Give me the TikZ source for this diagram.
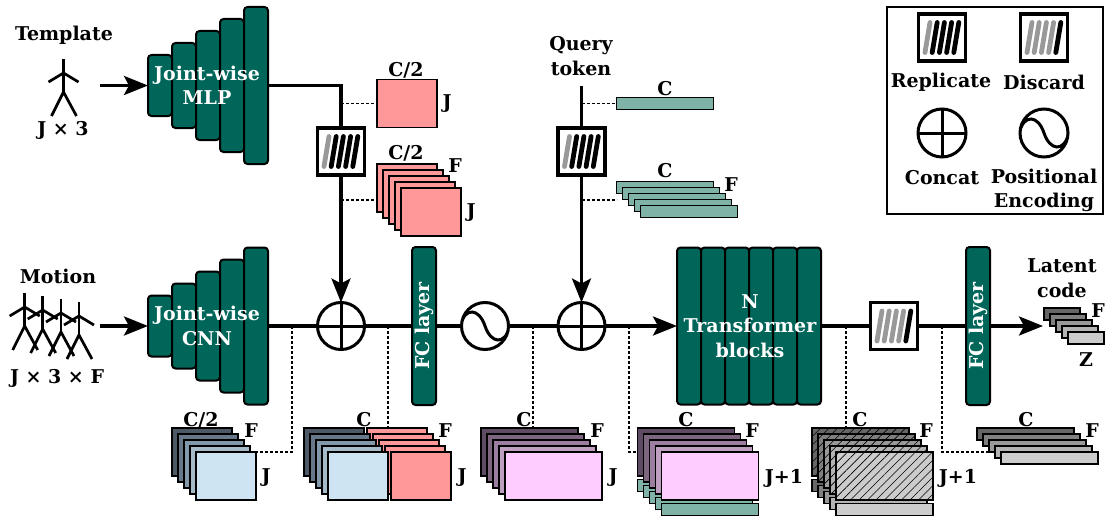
\documentclass[tikz,border=0pt]{standalone}
\usepackage{fontspec}
\setmainfont{DejaVu Serif}
\usetikzlibrary{arrows.meta}
\usetikzlibrary{patterns.meta}
\definecolor{blockc}{HTML}{00665A}
\definecolor{pinkc}{HTML}{FF9999}
\definecolor{tealc}{HTML}{80B3A8}
\definecolor{blueA}{HTML}{4D5966}
\definecolor{blueB}{HTML}{66788A}
\definecolor{blueC}{HTML}{8299AB}
\definecolor{blueD}{HTML}{A5BBC9}
\definecolor{blueE}{HTML}{CEE4F2}
\definecolor{purpA}{HTML}{5F4B63}
\definecolor{purpB}{HTML}{7F6680}
\definecolor{purpC}{HTML}{9C7FA0}
\definecolor{purpD}{HTML}{BF9FBF}
\definecolor{purpE}{HTML}{FFCCFF}
\definecolor{grayA}{HTML}{666666}
\definecolor{grayB}{HTML}{808080}
\definecolor{grayC}{HTML}{999999}
\definecolor{grayD}{HTML}{B3B3B3}
\definecolor{grayE}{HTML}{CCCCCC}

\begin{document}
\begin{tikzpicture}[
x = 1pt, y = -1pt,
lbl/.style={inner sep = 0, align = center, font = \bfseries\fontsize{19}{24.5}\selectfont},
wlbl/.style={lbl, text = white},
block/.style={rectangle, draw = black, fill = blockc, line width = 2, inner sep = 0, outer sep = 0, rounded corners = 3.5, minimum width = 24},
fclayer/.style={block, rotate = 90, minimum width = 158, minimum height = 24, text = white, font = \bfseries\fontsize{19}{24.5}\selectfont},
stackrect/.style={rectangle, draw = black, line width = 1.8, inner sep = 0, outer sep = 0},
sqrect/.style={stackrect, minimum width = 60, minimum height = 48},
widerect/.style={stackrect, minimum width = 97, minimum height = 48},
flatrect/.style={stackrect, minimum width = 97, minimum height = 12},
tinyrect/.style={stackrect, minimum width = 36, minimum height = 12},
hatched/.style={postaction={pattern = {Lines[angle = 45, distance = 6pt, line width = .6pt]}}},
barbox/.style n args={5}{rectangle, draw = black, fill = white, line width = 3.4, inner sep = 0, outer sep = 0, minimum size = 47,
  path picture={
    \foreach \bx/\bc in {-12/#1, -4.8/#2, 2.4/#3, 9.6/#4, 16.8/#5}
      \draw[line width = 4.8, line cap = round, draw = \bc]
        ([shift={(\bx,-15)}]path picture bounding box.center) -- ([shift={(\bx-5,15)}]path picture bounding box.center);
  }},
replicatebox/.style={barbox = {grayC}{black}{black}{black}{black}},
discardbox/.style={barbox = {grayC}{grayC}{grayC}{grayC}{black}},
concat/.style={circle, draw = black, fill = white, line width = 3, inner sep = 0, outer sep = 0, minimum size = 47,
  path picture={
    \draw[line width = 3] (path picture bounding box.north) -- (path picture bounding box.south);
    \draw[line width = 3] (path picture bounding box.west) -- (path picture bounding box.east);
  }},
sine/.style={circle, draw = black, fill = white, line width = 3, inner sep = 0, outer sep = 0, minimum size = 47,
  path picture={
    \draw[line width = 3] ([shift={(-24.5,-1)}]path picture bounding box.center)
      .. controls ([shift={(-20,-19)}]path picture bounding box.center) and ([shift={(-6,-18)}]path picture bounding box.center) .. (path picture bounding box.center)
      .. controls ([shift={(6,18)}]path picture bounding box.center) and ([shift={(20,19)}]path picture bounding box.center) .. ([shift={(24.5,1)}]path picture bounding box.center);
  }},
mainline/.style={draw = black, line width = 3.2},
mainarr/.style={mainline, -{Stealth[length = 24pt, width = 19pt, inset = 5pt]}},
dashline/.style={draw = black, line width = 1.5, dash pattern = on 3pt off 2pt},
stickman/.pic={
  \draw[line width = 2.7] (0,0) -- (0,33);
  \draw[line width = 2.7] (-15,23) -- (0,14) -- (15,23);
  \draw[line width = 2.7] (-12,57) -- (0,33) -- (13,57);
},
node distance = 24pt]

\useasboundingbox (0,0) rectangle (1107,519);

% template input
\node[lbl] (template) at (64,35) {Template};
\pic at (63.5,59) {stickman};
\node[lbl] (tplsize) at (63,130) {J × 3};
\coordinate (tplend) at (100,85.5);

\node[block, minimum height = 61] (mlpA) at (160,85.5) {};
\node[block, minimum height = 85, right of = mlpA] (mlpB) {};
\node[block, minimum height = 109, right of = mlpB] (mlpC) {};
\node[block, minimum height = 133, right of = mlpC] (mlpD) {};
\node[block, minimum height = 157, right of = mlpD] (mlpE) {};
\node[wlbl] (mlptxt) at (207,85.5) {Joint-wise\\MLP};

% motion input
\node[lbl] (motion) at (58,276) {Motion};
\pic at (24.7,293) {stickman};
\pic at (42.7,296) {stickman};
\pic at (61,299) {stickman};
\pic at (79,302) {stickman};
\node[lbl] (motsize) at (57,378) {J × 3 × F};
\coordinate (motend) at (100,326);

\node[block, minimum height = 61] (cnnA) at (160,326) {};
\node[block, minimum height = 85, right of = cnnA] (cnnB) {};
\node[block, minimum height = 109, right of = cnnB] (cnnC) {};
\node[block, minimum height = 133, right of = cnnC] (cnnD) {};
\node[block, minimum height = 157, right of = cnnD] (cnnE) {};
\node[wlbl] (cnntxt) at (207,326) {Joint-wise\\CNN};

% main row
\node[concat] (concatA) at (341,326) {};
\node[fclayer] (fcA) at (424,326) {FC layer};
\node[sine] (sineA) at (485,326) {};
\node[concat] (concatB) at (581.5,326) {};

\node[block, minimum height = 157] (tfA) at (689,326) {};
\node[block, minimum height = 157, right of = tfA] (tfB) {};
\node[block, minimum height = 157, right of = tfB] (tfC) {};
\node[block, minimum height = 157, right of = tfC] (tfD) {};
\node[block, minimum height = 157, right of = tfD] (tfE) {};
\node[block, minimum height = 157, right of = tfE] (tfF) {};
\node[wlbl] (tftxt) at (750,326) {N\\Transformer\\blocks};

\node[discardbox] (discardA) at (894,326) {};
\node[fclayer] (fcB) at (978,326) {FC layer};
\coordinate (latentend) at (1043,326);

% replicate boxes on top
\node[replicatebox] (replA) at (341,151.5) {};
\node[replicatebox] (replB) at (581.5,151.5) {};
\node[lbl] (query) at (581,56) {Query\\token};
\coordinate (queryend) at (581.5,86);

\draw[mainarr] (tplend) -- (mlpA);
\draw[mainarr] (motend) -- (cnnA);
\draw[mainline] (mlpE) -| (replA);
\draw[mainarr] (replA) -- (concatA);
\draw[mainline] (queryend) -- (replB);
\draw[mainarr] (replB) -- (concatB);
\draw[mainline] (cnnE) -- (concatA);
\draw[mainline] (concatA) -- (fcA);
\draw[mainline] (fcA) -- (sineA);
\draw[mainline] (sineA) -- (concatB);
\draw[mainarr] (concatB) -- (tfA);
\draw[mainline] (tfF) -- (discardA);
\draw[mainline] (discardA) -- (fcB);
\draw[mainarr] (fcB) -- (latentend);

% template tokens
\node[sqrect, fill = pinkc] (tplfeat) at (407,103.5) {};
\node[lbl] (tplc) at (406,70) {C/2};
\node[lbl] (tplj) at (447,104) {J};

\node[sqrect, fill = pinkc] (repA) at (407,188) {};
\node[sqrect, fill = pinkc] (repB) at ([shift={(6,6)}]repA) {};
\node[sqrect, fill = pinkc] (repC) at ([shift={(6,6)}]repB) {};
\node[sqrect, fill = pinkc] (repD) at ([shift={(6,6)}]repC) {};
\node[sqrect, fill = pinkc] (repE) at ([shift={(6,6)}]repD) {};
\node[lbl] (repc) at (406,153) {C/2};
\node[lbl] (repf) at (455,166) {F};
\node[lbl] (repj) at (471,213) {J};

\coordinate (dashA) at (341,103.5);
\coordinate (dashB) at (341,200);
\draw[dashline] (dashA) -- (tplfeat);
\draw[dashline] (dashB) -- (dashB -| repA.west);

% query tokens
\node[flatrect, fill = tealc] (qfeat) at (665,103.5) {};
\node[lbl] (qc) at (665,89) {C};

\node[flatrect, fill = tealc] (qrepA) at (665,187.5) {};
\node[flatrect, fill = tealc] (qrepB) at ([shift={(6,6)}]qrepA) {};
\node[flatrect, fill = tealc] (qrepC) at ([shift={(6,6)}]qrepB) {};
\node[flatrect, fill = tealc] (qrepD) at ([shift={(6,6)}]qrepC) {};
\node[flatrect, fill = tealc] (qrepE) at ([shift={(6,6)}]qrepD) {};
\node[lbl] (qrc) at (665,171) {C};
\node[lbl] (qrf) at (731,185) {F};

\coordinate (dashC) at (581.5,103.5);
\coordinate (dashD) at (581.5,200);
\draw[dashline] (dashC) -- (qfeat);
\draw[dashline] (dashD) -- (dashD -| qrepA.west);

% latent code
\node[lbl] (latent) at (1062,278) {Latent\\code};
\node[tinyrect, fill = grayA] (latA) at (1062,314) {};
\node[tinyrect, fill = grayB] (latB) at ([shift={(6,6)}]latA) {};
\node[tinyrect, fill = grayC] (latC) at ([shift={(6,6)}]latB) {};
\node[tinyrect, fill = grayD] (latD) at ([shift={(6,6)}]latC) {};
\node[tinyrect, fill = grayE] (latE) at ([shift={(6,6)}]latD) {};
\node[lbl] (latf) at (1098,311) {F};
\node[lbl] (latz) at (1086,360) {Z};

% bottom row, cnn output
\node[sqrect, fill = blueA] (cnnoutA) at (202,452) {};
\node[sqrect, fill = blueB] (cnnoutB) at ([shift={(6,6)}]cnnoutA) {};
\node[sqrect, fill = blueC] (cnnoutC) at ([shift={(6,6)}]cnnoutB) {};
\node[sqrect, fill = blueD] (cnnoutD) at ([shift={(6,6)}]cnnoutC) {};
\node[sqrect, fill = blueE] (cnnoutE) at ([shift={(6,6)}]cnnoutD) {};
\node[lbl] (cnnoutc) at (201,420) {C/2};
\node[lbl] (cnnoutf) at (251,431) {F};
\node[lbl] (cnnoutj) at (266,478) {J};

% concat output
\node[sqrect, fill = pinkc] (catpA) at (397,452) {};
\node[sqrect, fill = pinkc] (catpB) at ([shift={(6,6)}]catpA) {};
\node[sqrect, fill = pinkc] (catpC) at ([shift={(6,6)}]catpB) {};
\node[sqrect, fill = pinkc] (catpD) at ([shift={(6,6)}]catpC) {};
\node[sqrect, fill = pinkc] (catpE) at ([shift={(6,6)}]catpD) {};
\node[sqrect, fill = blueA] (catbA) at (334,452) {};
\node[sqrect, fill = blueB] (catbB) at ([shift={(6,6)}]catbA) {};
\node[sqrect, fill = blueC] (catbC) at ([shift={(6,6)}]catbB) {};
\node[sqrect, fill = blueD] (catbD) at ([shift={(6,6)}]catbC) {};
\node[sqrect, fill = blueE] (catbE) at ([shift={(6,6)}]catbD) {};
\node[lbl] (catc) at (364,420) {C};
\node[lbl] (catf) at (445,431) {F};
\node[lbl] (catj) at (462,478) {J};

% fc output
\node[widerect, fill = purpA] (fcoutA) at (529.5,452) {};
\node[widerect, fill = purpB] (fcoutB) at ([shift={(6,6)}]fcoutA) {};
\node[widerect, fill = purpC] (fcoutC) at ([shift={(6,6)}]fcoutB) {};
\node[widerect, fill = purpD] (fcoutD) at ([shift={(6,6)}]fcoutC) {};
\node[widerect, fill = purpE] (fcoutE) at ([shift={(6,6)}]fcoutD) {};
\node[lbl] (fcoutc) at (524,420) {C};
\node[lbl] (fcoutf) at (597,431) {F};
\node[lbl] (fcoutj) at (613,478) {J};

% with query token
\node[flatrect, fill = tealc] (tokA) at (686,485.5) {};
\node[flatrect, fill = tealc] (tokB) at ([shift={(6,6)}]tokA) {};
\node[flatrect, fill = tealc] (tokC) at ([shift={(6,6)}]tokB) {};
\node[flatrect, fill = tealc] (tokD) at ([shift={(6,6)}]tokC) {};
\node[flatrect, fill = tealc] (tokE) at ([shift={(6,6)}]tokD) {};
\node[widerect, fill = purpA] (seqA) at (686,452) {};
\node[widerect, fill = purpB] (seqB) at ([shift={(6,6)}]seqA) {};
\node[widerect, fill = purpC] (seqC) at ([shift={(6,6)}]seqB) {};
\node[widerect, fill = purpD] (seqD) at ([shift={(6,6)}]seqC) {};
\node[widerect, fill = purpE] (seqE) at ([shift={(6,6)}]seqD) {};
\node[lbl] (seqc) at (686,420) {C};
\node[lbl] (seqf) at (752,431) {F};
\node[lbl] (seqj) at (784,478) {J+1};

% transformer output, joints discarded
\node[flatrect, fill = grayA] (keepA) at (860.5,485.5) {};
\node[flatrect, fill = grayB] (keepB) at ([shift={(6,6)}]keepA) {};
\node[flatrect, fill = grayC] (keepC) at ([shift={(6,6)}]keepB) {};
\node[flatrect, fill = grayD] (keepD) at ([shift={(6,6)}]keepC) {};
\node[flatrect, fill = grayE] (keepE) at ([shift={(6,6)}]keepD) {};
\node[widerect, fill = grayA, hatched] (dropA) at (860.5,452) {};
\node[widerect, fill = grayB, hatched] (dropB) at ([shift={(6,6)}]dropA) {};
\node[widerect, fill = grayC, hatched] (dropC) at ([shift={(6,6)}]dropB) {};
\node[widerect, fill = grayD, hatched] (dropD) at ([shift={(6,6)}]dropC) {};
\node[widerect, fill = grayE, hatched] (dropE) at ([shift={(6,6)}]dropD) {};
\node[lbl] (dropc) at (860,420) {C};
\node[lbl] (dropf) at (926,431) {F};
\node[lbl] (dropj) at (958,478) {J+1};

% before last fc layer
\node[flatrect, fill = grayA] (endA) at (1025.5,434) {};
\node[flatrect, fill = grayB] (endB) at ([shift={(6,6)}]endA) {};
\node[flatrect, fill = grayC] (endC) at ([shift={(6,6)}]endB) {};
\node[flatrect, fill = grayD] (endD) at ([shift={(6,6)}]endC) {};
\node[flatrect, fill = grayE] (endE) at ([shift={(6,6)}]endD) {};
\node[lbl] (endc) at (1026,420) {C};
\node[lbl] (endf) at (1092,431) {F};

% dotted taps
\coordinate (tapA) at (292,326);
\coordinate (tapB) at (388,326);
\coordinate (tapC) at (533,326);
\coordinate (tapD) at (629,326);
\coordinate (tapE) at (846,326);
\coordinate (tapF) at (942,326);
\draw[dashline] (tapA) |- (cnnoutE.north east);
\draw[dashline] (tapB) -- (tapB |- catpA.north);
\draw[dashline] (tapC) -- (tapC |- fcoutA.north);
\draw[dashline] (tapD) |- (seqA.west);
\draw[dashline] (tapE) -- (tapE |- dropA.north);
\draw[dashline] (tapF) |- (endD.west);

% legend
\node[rectangle, draw = black, line width = 1.5, minimum width = 216, minimum height = 207] (legend) at (995,110.5) {};
\node[replicatebox] (legrep) at (942,37.5) {};
\node[discardbox] (legdis) at (1044,37.5) {};
\node[lbl] (legrept) at (941,82) {Replicate};
\node[lbl] (legdist) at (1044,82) {Discard};
\node[concat, minimum size = 48] (legcat) at (942,133) {};
\node[sine, minimum size = 48] (legsin) at (1044,133) {};
\node[lbl] (legcatt) at (942,178) {Concat};
\node[lbl] (legsint) at (1044,190.5) {Positional\\Encoding};

\end{tikzpicture}
\end{document}
